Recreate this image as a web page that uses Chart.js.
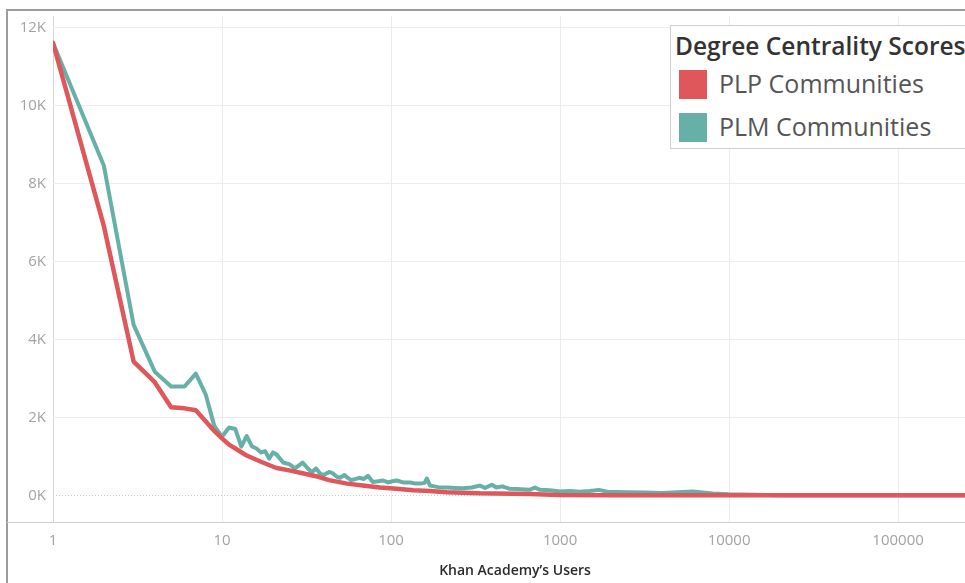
<!DOCTYPE html>
<html>
<head>
<meta charset="utf-8">
<script src="https://cdn.jsdelivr.net/npm/chart.js@4"></script>
<style>
  html, body { margin: 0; padding: 0; background: #fff; overflow: hidden; }
  #wrap { position: relative; width: 965px; height: 583px; overflow: hidden; }
  #frame { position: absolute; left: 6px; top: 9px; width: 1000px; height: 600px;
           border-left: 2px solid #9c9c9c; border-top: 2px solid #9c9c9c; }
  #box { position: absolute; left: 0; top: 0; width: 977px; height: 583px; }
  #legend { position: absolute; left: 670px; top: 25px; width: 320px; height: 122px;
            background: #fff; border: 1px solid #cfcfcf; font-family: 'Open Sans', sans-serif; }
  #legend .ttl { position: absolute; left: 4px; top: 3px; font-size: 24.5px; font-weight: 600;
                 color: #333; white-space: nowrap; }
  #legend .item { position: absolute; left: 8px; height: 29px; white-space: nowrap; }
  #legend .sw { display: inline-block; width: 28px; height: 29px; vertical-align: top; }
  #legend .lbl { position: absolute; left: 40px; top: -4px; font-size: 25px; color: #555; }
</style>
</head>
<body>
<div id="wrap">
  <div id="frame"></div>
  <div id="box"><canvas id="chart" width="977" height="583"></canvas></div>
  <div id="legend"></div>
</div>
<script>
// ---- data ----
const legendTitle = 'Degree Centrality Scores';
const xTitle = 'Khan Academy\u2019s Users';

const xTicks = [1, 10, 100, 1000, 10000, 100000];
const yTicks = [0, 2000, 4000, 6000, 8000, 10000, 12000];

// PLP Communities (red)
const plpUsers = [1, 2, 3, 4, 5, 6, 7, 8, 9, 10, 11, 12, 14, 17, 21, 25, 29, 36, 43, 55,
  68, 86, 108, 135, 170, 214, 265, 335, 420, 660, 1000, 2000, 10000, 100000, 300000];
const plpScores = [11600, 6900, 3430, 2900, 2260, 2230, 2180, 1900, 1650, 1460, 1300, 1200, 1020, 860, 700, 640, 580, 490, 390, 300,
  250, 200, 170, 130, 110, 80, 65, 50, 45, 35, 10, 0, 0, 0, 0];

// PLM Communities (teal)
const plmUsers = [1, 2, 3, 4, 5, 6, 7, 8, 9, 10, 11, 12, 13, 14, 15, 16, 17, 18, 19, 20,
  21, 23, 25, 27, 30, 32, 34, 36, 38, 40, 43, 45, 48, 50, 53, 55, 58, 62, 65, 69,
  73, 78, 84, 90, 96, 102, 108, 118, 130, 140, 150, 158, 163, 170, 180, 190, 214, 240, 266, 300,
  335, 360, 395, 420, 455, 500, 555, 620, 660, 710, 760, 870, 1000, 1150, 1300, 1500, 1700, 1900, 2500, 3200,
  4000, 6100, 8000, 10000, 20000, 300000];
const plmScores = [11600, 8450, 4370, 3170, 2790, 2790, 3120, 2590, 1780, 1500, 1740, 1700, 1250, 1520, 1260, 1200, 1100, 1130, 940, 1100,
  1050, 840, 800, 690, 840, 700, 590, 690, 560, 520, 600, 570, 470, 450, 520, 460, 390, 420, 450, 420,
  500, 340, 360, 380, 330, 360, 380, 330, 330, 300, 300, 320, 430, 250, 230, 210, 200, 190, 180, 200,
  250, 190, 270, 200, 230, 170, 160, 150, 140, 200, 140, 130, 100, 110, 90, 110, 140, 90, 80, 70,
  60, 100, 50, 30, 0, 0];

const RED = '#e0575b';
const TEAL = '#66b0a8';
const tickFont = { family: "'Open Sans', sans-serif", size: 15 };

const toPoints = (xs, ys) => xs.map((x, i) => ({ x: x, y: ys[i] }));

// dotted zero line + axis rule across the whole frame
const extras = {
  id: 'extras',
  beforeDatasetsDraw(chart) {
    const { ctx, chartArea, scales } = chart;
    const y0 = Math.round(scales.y.getPixelForValue(0)) + 0.5;
    ctx.save();
    ctx.strokeStyle = '#c8c8c8';
    ctx.lineWidth = 1;
    ctx.setLineDash([1, 2]);
    ctx.beginPath();
    ctx.moveTo(chartArea.left, y0);
    ctx.lineTo(chartArea.right, y0);
    ctx.stroke();
    ctx.setLineDash([]);
    ctx.strokeStyle = '#cfcfcf';
    const yb = Math.round(chartArea.bottom) + 0.5;
    ctx.beginPath();
    ctx.moveTo(7, yb);
    ctx.lineTo(chart.width, yb);
    ctx.stroke();
    ctx.restore();
  }
};

const chart = new Chart(document.getElementById('chart'), {
  type: 'line',
  data: {
    datasets: [{
      label: 'PLP Communities',
      data: toPoints(plpUsers, plpScores),
      borderColor: RED,
      backgroundColor: RED,
      borderWidth: 4.5,
      pointRadius: 0,
      tension: 0,
      borderJoinStyle: 'round',
      borderCapStyle: 'round'
    }, {
      label: 'PLM Communities',
      data: toPoints(plmUsers, plmScores),
      borderColor: TEAL,
      backgroundColor: TEAL,
      borderWidth: 4,
      pointRadius: 0,
      tension: 0,
      borderJoinStyle: 'round',
      borderCapStyle: 'round'
    }]
  },
  options: {
    responsive: false,
    animation: false,
    layout: { padding: { left: 7, top: 10, right: 0, bottom: 0 } },
    plugins: { legend: { display: false }, tooltip: { enabled: false } },
    scales: {
      x: {
        type: 'logarithmic',
        min: 1,
        max: 293000,
        afterBuildTicks: axis => { axis.ticks = xTicks.map(v => ({ value: v })); },
        afterFit: scale => { scale.height = 61; },
        grid: {
          drawTicks: false,
          color: ctx => (ctx.tick && ctx.tick.value === 1 ? '#d6d6d6' : '#ececec')
        },
        border: { display: false },
        ticks: {
          autoSkip: false,
          maxRotation: 0,
          padding: 10,
          color: '#a3a3a3',
          font: tickFont,
          callback: v => String(v)
        },
        title: {
          display: true,
          text: xTitle,
          color: '#2b2b2b',
          font: { family: "'Open Sans', sans-serif", size: 14, weight: '600' },
          padding: { top: 0, bottom: 4 }
        }
      },
      y: {
        min: -684,
        max: 12290,
        afterBuildTicks: axis => { axis.ticks = yTicks.map(v => ({ value: v })); },
        afterFit: scale => { scale.width = 46; },
        grid: {
          drawTicks: false,
          color: ctx => (ctx.tick && ctx.tick.value === 0 ? 'rgba(0,0,0,0)' : '#ececec')
        },
        border: { display: false },
        ticks: {
          autoSkip: false,
          padding: 7,
          color: '#a3a3a3',
          font: tickFont,
          callback: v => (v / 1000) + 'K'
        }
      }
    }
  },
  plugins: [extras]
});

// legend built from the chart's datasets
const lg = document.getElementById('legend');
const t = document.createElement('div');
t.className = 'ttl';
t.textContent = legendTitle;
lg.appendChild(t);
chart.data.datasets.forEach((ds, i) => {
  const it = document.createElement('div');
  it.className = 'item';
  it.style.top = (44 + i * 43) + 'px';
  it.innerHTML = '<span class="sw" style="background:' + ds.borderColor + '"></span>' +
    '<span class="lbl">' + ds.label + '</span>';
  lg.appendChild(it);
});
</script>
</body>
</html>
